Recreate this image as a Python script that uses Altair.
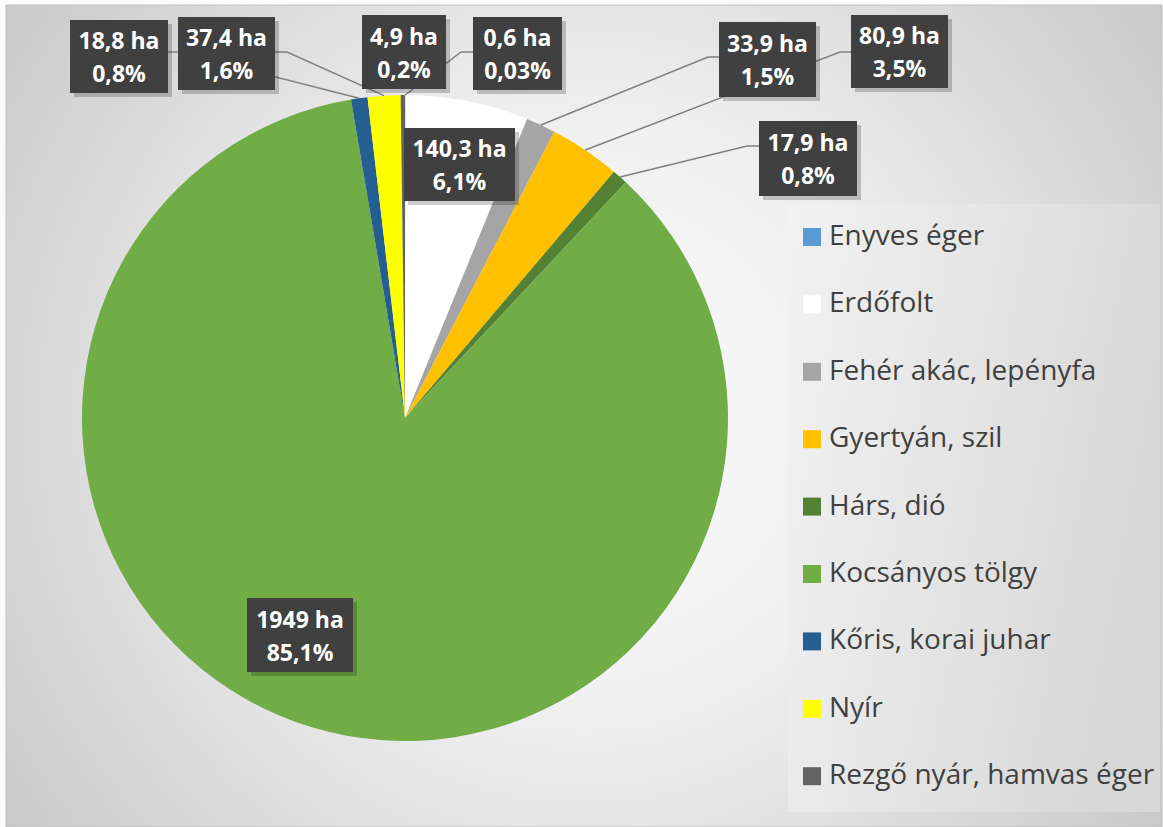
import math
import altair as alt
import pandas as pd

# ---------------- data ----------------
names = ["Enyves éger", "Erdőfolt", "Fehér akác, lepényfa", "Gyertyán, szil",
         "Hárs, dió", "Kocsányos tölgy", "Kőris, korai juhar", "Nyír",
         "Rezgő nyár, hamvas éger"]
area_ha = [0.6, 140.3, 33.9, 80.9, 17.9, 1949, 18.8, 37.4, 4.9]
pct_labels = ["0,03%", "6,1%", "1,5%", "3,5%", "0,8%", "85,1%", "0,8%", "1,6%", "0,2%"]
colors = ["#5b9bd5", "#ffffff", "#a5a5a5", "#ffc000", "#548235",
          "#70ad47", "#255e91", "#ffff00", "#636363"]

# ---------------- layout (pixels) ----------------
W, H = 1163, 827
CX, CY, R = 405, 418, 323
# label boxes: x0, x1, y0, y1
label_boxes = [(473, 562, 17, 90), (404, 515, 128, 201), (719, 816, 22, 97),
               (851, 948, 15, 88), (759, 857, 121, 196), (247, 353, 598, 672),
               (70, 168, 20, 93), (178, 275, 17, 90), (362, 446, 15, 89)]
# leader line: elbow point and attach point on the box (None = no leader)
leader_pts = [((461, 52), (473, 52)), None, ((708, 57), (719, 57)),
              ((840, 52), (851, 52)), ((747, 146), (759, 146)), None,
              ((178, 52), (168, 52)), ((287, 52), (275, 52)), None]

FONT = "Open Sans"

# ---------------- derived tables ----------------
total = sum(area_ha)
pie_df = pd.DataFrame({"name": names, "value": area_ha, "idx": list(range(len(names)))})


def ha_text(v):
    s = f"{v:g}".replace(".", ",")
    return f"{s} ha"


lab_rows = []
for i, (n, v, p) in enumerate(zip(names, area_ha, pct_labels)):
    x0, x1, y0, y1 = label_boxes[i]
    cy = (y0 + y1) / 2
    lab_rows.append({"name": n, "x0": x0, "x1": x1, "y0": y0, "y1": y1,
                     "cx": (x0 + x1) / 2, "ya": cy - 14.5, "yb": cy + 18.5,
                     "t1": ha_text(v), "t2": p})
lab_df = pd.DataFrame(lab_rows)

lead_rows = []
cum = 0.0
for i, v in enumerate(area_ha):
    mid = (cum + v / 2) / total * 2 * math.pi
    cum += v
    if leader_pts[i] is None:
        continue
    sx = CX + R * math.sin(mid)
    sy = CY - R * math.cos(mid)
    (ex, ey), (ax, ay) = leader_pts[i]
    for k, (px, py) in enumerate([(sx, sy), (ex, ey), (ax, ay)]):
        lead_rows.append({"name": names[i], "seq": k, "px": px, "py": py})
lead_df = pd.DataFrame(lead_rows)

ring_df = pd.DataFrame({"r": [R + 2 + 3 * k for k in range(9)]})

# ---------------- layers ----------------
bg = alt.Chart(pd.DataFrame({"a": [0]})).mark_rect(
    fill={"gradient": "radial", "x1": 0.5, "y1": 0.5, "r1": 0.0,
          "x2": 0.5, "y2": 0.5, "r2": 0.72,
          "stops": [{"offset": 0, "color": "#ffffff"},
                    {"offset": 0.35, "color": "#f4f4f4"},
                    {"offset": 1, "color": "#c2c2c2"}]},
    stroke="#c4c4c4", strokeWidth=1,
).encode(x=alt.value(6), x2=alt.value(1162), y=alt.value(5), y2=alt.value(827))

legend_box = alt.Chart(pd.DataFrame({"a": [0]})).mark_rect(
    fill={"gradient": "linear", "x1": 0, "y1": 0, "x2": 1, "y2": 0.3,
          "stops": [{"offset": 0, "color": "#f6f6f6"},
                    {"offset": 1, "color": "#dcdcdc"}]},
).encode(x=alt.value(788), x2=alt.value(1160), y=alt.value(204), y2=alt.value(812))

shadow = alt.Chart(ring_df).mark_arc(
    theta=0, theta2=2 * math.pi, fill="#000000", opacity=0.014,
).encode(x=alt.value(CX), y=alt.value(CY),
         radius=alt.Radius("r:Q", scale=None))

pie = alt.Chart(pie_df).mark_arc(outerRadius=R, strokeWidth=0).encode(
    x=alt.value(CX), y=alt.value(CY),
    theta=alt.Theta("value:Q", stack=True),
    order=alt.Order("idx:Q", sort="ascending"),
    color=alt.Color(
        "name:N",
        scale=alt.Scale(domain=names, range=colors),
        sort=names,
        legend=alt.Legend(
            orient="none", legendX=798, legendY=223, title=None,
            symbolType="square", symbolSize=324, symbolStrokeWidth=0,
            symbolOpacity=1,
            labelFont=FONT, labelFontSize=28, labelColor="#404040",
            labelOffset=3, rowPadding=39.4, padding=0, labelLimit=400,
        ),
    ),
)

leaders = alt.Chart(lead_df).mark_line(color="#808080", strokeWidth=1.5).encode(
    x=alt.X("px:Q", scale=None), y=alt.Y("py:Q", scale=None),
    detail="name:N", order="seq:Q",
)

box_shadow = alt.Chart(lab_df).transform_calculate(
    sx0="datum.x0 + 4", sx1="datum.x1 + 4", sy0="datum.y0 + 4", sy1="datum.y1 + 4"
).mark_rect(fill="#000000", opacity=0.2).encode(
    x=alt.X("sx0:Q", scale=None), x2="sx1:Q",
    y=alt.Y("sy0:Q", scale=None), y2="sy1:Q",
)

boxes = alt.Chart(lab_df).mark_rect(fill="#404040").encode(
    x=alt.X("x0:Q", scale=None), x2="x1:Q",
    y=alt.Y("y0:Q", scale=None), y2="y1:Q",
)

text_style = dict(font=FONT, fontSize=23, fontWeight="bold", color="#ffffff",
                  align="center", baseline="middle")

text1 = alt.Chart(lab_df).mark_text(**text_style).encode(
    x=alt.X("cx:Q", scale=None), y=alt.Y("ya:Q", scale=None), text="t1:N",
)
text2 = alt.Chart(lab_df).mark_text(**text_style).encode(
    x=alt.X("cx:Q", scale=None), y=alt.Y("yb:Q", scale=None), text="t2:N",
)

chart = alt.layer(bg, legend_box, shadow, pie, leaders, box_shadow, boxes,
                  text1, text2).properties(
    width=W, height=H, autosize="none", padding=0, background="#ffffff",
).configure_view(stroke=None)

chart.save("out.html", embed_options={"renderer": "svg", "actions": False})
